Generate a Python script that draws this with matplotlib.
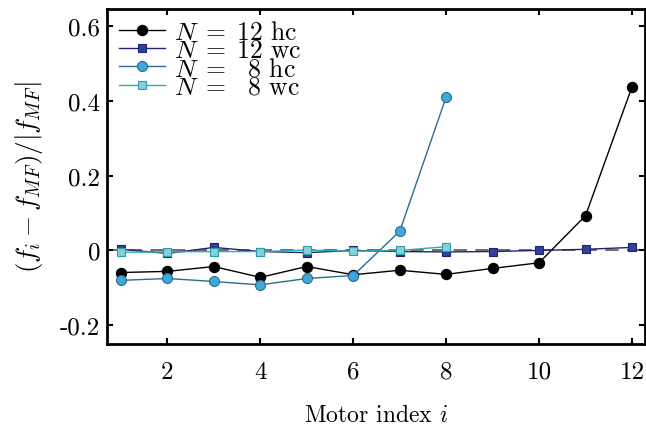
import matplotlib
matplotlib.use("Agg")
import matplotlib.pyplot as plt

plt.rcParams['font.family'] = 'cmr10'
plt.rcParams['mathtext.fontset'] = 'cm'
plt.rcParams['axes.unicode_minus'] = False

motors12 = list(range(1, 13))
motors8 = list(range(1, 9))
n12_hc = [-0.059, -0.056, -0.043, -0.072, -0.043, -0.065, -0.053, -0.064, -0.048, -0.033, 0.093, 0.437]
n12_wc = [0.003, -0.008, 0.008, -0.003, -0.006, 0.0, -0.003, -0.004, -0.003, 0.0, 0.003, 0.008]
n8_hc = [-0.080, -0.075, -0.083, -0.092, -0.075, -0.067, 0.051, 0.410]
n8_wc = [-0.005, -0.004, -0.003, -0.003, 0.001, -0.002, 0.0, 0.010]

labels = [r'$N\;=\;12$ hc', r'$N\;=\;12$ wc', r'$N\;=\;\enspace8$ hc', r'$N\;=\;\enspace8$ wc']
yticks = [-0.2, 0, 0.2, 0.4, 0.6]
yticklabels = ['-0.2', '0', '0.2', '0.4', '0.6']
xticks = [2, 4, 6, 8, 10, 12]

fig = plt.figure(figsize=(6.46, 4.31), dpi=100)
ax = fig.add_axes([107/646, 1 - 345/431, (645-107)/646, (345-10)/431])

ax.axhline(0, color='#555555', lw=1.2, dashes=(8, 5), zorder=1)
ax.plot(motors12, n12_hc, '-o', color='black', lw=1, ms=7.2, mfc='black', mec='black', label=labels[0], zorder=3)
ax.plot(motors12, n12_wc, '-s', color='#1f2470', lw=1, ms=6.3, mfc='#2e4296', mec='#1f2470', mew=0.8, label=labels[1], zorder=3)
ax.plot(motors8, n8_hc, '-o', color='#2a6d8f', lw=1, ms=7.2, mfc='#3fa8d8', mec='#2a6d8f', mew=0.8, label=labels[2], zorder=4)
ax.plot(motors8, n8_wc, '-s', color='#34aab2', lw=1, ms=6.3, mfc='#86d0dc', mec='#2a9ea6', mew=0.8, label=labels[3], zorder=4)

ax.set_xlim(0.7, 12.28)
ax.set_ylim(-0.25, 0.645)
ax.set_xticks(xticks)
ax.set_xticklabels([str(t) for t in xticks], fontsize=18)
ax.set_yticks(yticks)
ax.set_yticklabels(yticklabels, fontsize=18)
ax.tick_params(direction='in', length=4, width=1.5, top=True, right=True)
ax.tick_params(axis='y', pad=5)
ax.tick_params(axis='x', pad=12)
for s in ax.spines.values():
    s.set_linewidth(2)

ax.set_xlabel(r'Motor index $i$', fontsize=17, labelpad=15)
ax.set_ylabel(r'$(f_i - f_{MF})/|f_{MF}|$', fontsize=19.5, labelpad=11)

leg = ax.legend(loc='upper left', frameon=False, fontsize=18.5, handlelength=1.8,
                handletextpad=0.35, labelspacing=-0.22, borderaxespad=0.25, borderpad=0.2)

fig.savefig('out.png', dpi=100)
